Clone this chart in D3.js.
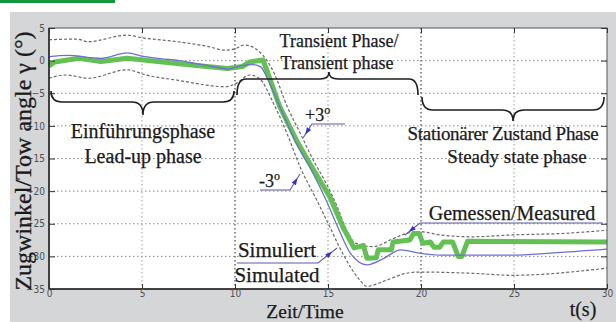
<!DOCTYPE html>
<html>
<head>
<meta charset="utf-8">
<script src="https://cdn.jsdelivr.net/npm/d3@7"></script>
<style>
  body { margin: 0; background: #fff; }
  svg { display: block; }
</style>
</head>
<body>
<div id="chart"></div>
<script>
// values (time in s, angle in degrees)
const xTicks = [0, 5, 10, 15, 20, 25, 30];
const yTicks = [5, 0, -5, -10, -15, -20, -25, -30, -35];

const simT = [0, 1, 2.8, 4.2, 5, 6, 7, 8, 9, 9.6, 10.3, 11, 11.4, 11.7, 12.4, 13.3, 14.2, 14.9, 15.6, 16.2, 17.1, 18, 18.9, 19.9, 21, 22.1, 24.9, 27, 30];
const simV = [0.6, 0.8, 0.35, 1.2, 0.7, 0.3, 0, -0.5, -1.0, -1.3, -0.8, -0.6, -1.0, -2.5, -7, -12.7, -17.3, -21.4, -26, -29.5, -31.3, -30.3, -29, -29.5, -29.8, -29.8, -29.8, -29.5, -28.9];

const upT = [0, 1.5, 2.1, 4.2, 5, 6.9, 8.5, 9.5, 10, 10.5, 11.3, 12.1, 12.8, 13.5, 14.2, 14.9, 15.5, 16, 16.5, 17.4, 18.5, 19.2, 19.9, 21, 22.8, 25, 27.5, 30];
const upV = [3.2, 3.3, 2.9, 3.9, 3.5, 2.9, 2.2, 1.6, 1.8, 2.4, 1.4, -1.9, -7, -11.1, -15.2, -18.8, -22.4, -26, -28, -28.5, -27.3, -26.5, -26.2, -26.7, -27, -26.7, -26.5, -26];

const lowT = [0, 0.9, 2.1, 4.2, 5.2, 6.9, 9.5, 10, 10.8, 11.3, 12.06, 12.8, 13.5, 14.4, 15.1, 15.6, 16.2, 16.7, 17.1, 18, 19.2, 19.9, 22.8, 24.9, 30];
const lowV = [-2.7, -2.2, -2.7, -1.4, -2.2, -3, -4, -3.6, -2.2, -2.7, -6.5, -11.2, -16.3, -21.4, -25.5, -28.5, -31.6, -33.6, -34.6, -33.8, -32.6, -32.4, -32.6, -32.9, -31.8];

const measT = [0, 0.3, 1.6, 2.8, 4.2, 6.1, 7.8, 9.6, 10.4, 10.8, 11.5, 11.7, 12.4, 13.3, 14, 15.1, 15.8, 16.4, 16.7, 16.9, 17.1, 17.6, 17.7, 18.4, 18.5, 19.4, 19.6, 19.9, 20.1, 20.5, 20.7, 21.0, 21.2, 21.7, 22.0, 22.2, 22.5, 30];
const measV = [-0.8, -0.2, 0.35, -0.15, 0.35, -0.2, -0.7, -1.2, -0.9, -0.2, 0.1, -1.4, -7, -12.2, -15.7, -20.9, -25.5, -28.7, -28.5, -28.3, -30.3, -30.2, -29, -29, -27.8, -27.5, -26.5, -26.5, -28, -27.8, -28.6, -28.6, -27.8, -27.8, -30, -30, -27.7, -27.8];

const width = 616, height = 322;
const svg = d3.select("#chart").append("svg")
    .attr("width", width)
    .attr("height", height);

// grey panel behind the plot and the green strip top-left
svg.append("rect").attr("x", 10).attr("y", 12).attr("width", width - 10).attr("height", height - 12).attr("fill", "#d4d6d8");
svg.append("rect").attr("x", 0).attr("y", 0).attr("width", 115).attr("height", 3).attr("fill", "#12973c");

const x = d3.scaleLinear().domain([0, 30]).range([49, 607]);
const y = d3.scaleLinear().domain([-35, 5]).range([289, 28]);

svg.append("rect")
    .attr("x", x(0)).attr("y", y(5))
    .attr("width", x(30) - x(0)).attr("height", y(-35) - y(5))
    .attr("fill", "#fff");

// dotted grid
const grid = svg.append("g").attr("stroke-dasharray", "1.5,2.5").attr("fill", "none");
grid.selectAll(".gy").data(yTicks.filter(d => d > -35 && d < 5)).enter().append("line")
    .attr("x1", x(0)).attr("x2", x(30))
    .attr("y1", d => y(d)).attr("y2", d => y(d))
    .attr("stroke", "#8a8a8a").attr("stroke-width", 1);
grid.selectAll(".gx").data(xTicks.filter(d => d > 0 && d < 30)).enter().append("line")
    .attr("y1", y(5)).attr("y2", y(-35))
    .attr("x1", d => x(d)).attr("x2", d => x(d))
    .attr("stroke", d => (d === 10 || d === 20) ? "#555" : "#9a9a9a")
    .attr("stroke-width", d => (d === 10 || d === 20) ? 1.3 : 1);

// series
const line = d3.line().x(d => x(d[0])).y(d => y(d[1])).curve(d3.curveMonotoneX);
const lineStep = d3.line().x(d => x(d[0])).y(d => y(d[1]));

svg.append("path").datum(d3.zip(upT, upV))
    .attr("d", line).attr("fill", "none")
    .attr("stroke", "#6a6a6a").attr("stroke-width", 1.2).attr("stroke-dasharray", "3,2");
svg.append("path").datum(d3.zip(lowT, lowV))
    .attr("d", line).attr("fill", "none")
    .attr("stroke", "#6a6a6a").attr("stroke-width", 1.2).attr("stroke-dasharray", "3,2");
svg.append("path").datum(d3.zip(measT, measV))
    .attr("d", lineStep).attr("fill", "none")
    .attr("stroke", "#62c152").attr("stroke-width", 5).attr("stroke-linejoin", "round");
svg.append("path").datum(d3.zip(simT, simV))
    .attr("d", line).attr("fill", "none")
    .attr("stroke", "#6e6fd6").attr("stroke-width", 1.3);

// frame and ticks
const frame = svg.append("g").attr("fill", "none");
frame.append("rect")
    .attr("x", x(0)).attr("y", y(5))
    .attr("width", x(30) - x(0)).attr("height", y(-35) - y(5))
    .attr("stroke", "#555").attr("stroke-width", 1);
frame.append("line").attr("x1", x(0)).attr("x2", x(0)).attr("y1", y(5)).attr("y2", y(-35)).attr("stroke", "#222").attr("stroke-width", 1.5);
frame.append("line").attr("x1", x(0)).attr("x2", x(30)).attr("y1", y(-35)).attr("y2", y(-35)).attr("stroke", "#222").attr("stroke-width", 1.5);

const xAxis = svg.append("g").attr("transform", `translate(0,${y(-35)})`)
    .call(d3.axisBottom(x).tickValues(xTicks).tickSize(-5).tickPadding(1));
const xTop = svg.append("g").attr("transform", `translate(0,${y(5)})`)
    .call(d3.axisTop(x).tickValues(xTicks).tickSize(-5).tickFormat(""));
const yAxis = svg.append("g").attr("transform", `translate(${x(0)},0)`)
    .call(d3.axisLeft(y).tickValues(yTicks).tickSize(-6).tickPadding(4));
const yRight = svg.append("g").attr("transform", `translate(${x(30)},0)`)
    .call(d3.axisRight(y).tickValues(yTicks).tickSize(-6).tickFormat(""));

[xAxis, xTop, yAxis, yRight].forEach(a => {
    a.select(".domain").remove();
    a.selectAll(".tick line").attr("stroke", "#333");
    a.selectAll("text")
        .attr("fill", "#505050")
        .attr("font-family", "DejaVu Sans Condensed, Liberation Sans Narrow, Liberation Sans, sans-serif")
        .style("font-stretch", "condensed")
        .attr("font-size", 10);
});

// braces
function brace(x1, x2, xm, yEnd, yLine, yTip, r) {
    return `M${x1},${yEnd} Q${x1},${yLine} ${x1 + r},${yLine} L${xm - r},${yLine} ` +
        `Q${xm},${yLine} ${xm},${yTip} Q${xm},${yLine} ${xm + r},${yLine} ` +
        `L${x2 - r},${yLine} Q${x2},${yLine} ${x2},${yEnd}`;
}
const braces = svg.append("g").attr("fill", "none").attr("stroke", "#1e1e1e").attr("stroke-width", 1.6);
braces.append("path").attr("d", brace(51, 234, 143, 91, 102, 115, 11));
braces.append("path").attr("d", brace(237, 418, 329, 95, 79, 72, 9));
braces.append("path").attr("d", brace(422, 604, 513, 97, 110, 121, 11));

// text labels
const serif = "Liberation Serif, Times New Roman, Times, DejaVu Serif, serif";
function label(tx, ty, str, size, anchor) {
    return svg.append("text")
        .attr("x", tx).attr("y", ty)
        .attr("text-anchor", anchor || "middle")
        .attr("font-family", serif)
        .attr("font-size", size)
        .attr("fill", "#1a1a1a")
        .attr("stroke", "#1a1a1a").attr("stroke-width", 0.25)
        .text(str);
}
label(143, 138, "Einführungsphase", 20);
label(143, 163, "Lead-up phase", 20);
label(339, 47, "Transient Phase/", 18);
label(337, 69, "Transient phase", 18);
label(503, 140, "Stationärer Zustand Phase", 19).attr("letter-spacing", "-0.3px");
label(517, 163, "Steady state phase", 19);
label(512, 220, "Gemessen/Measured", 20);
label(277, 257, "Simuliert", 21);
label(277, 282, "Simulated", 21);
label(305, 317.5, "Zeit/Time", 19.5);
label(583, 316, "t(s)", 20);

const p3 = label(305, 121, "+3", 18, "start");
p3.append("tspan").attr("dy", -7).attr("font-size", 12).text("o");
const m3 = label(259, 187, "-3", 18, "start");
m3.append("tspan").attr("dy", -7).attr("font-size", 12).text("o");

svg.append("text")
    .attr("transform", "translate(31,161) rotate(-90)")
    .attr("text-anchor", "middle")
    .attr("font-family", serif)
    .attr("font-size", 24)
    .attr("fill", "#1a1a1a")
    .attr("stroke", "#1a1a1a").attr("stroke-width", 0.3)
    .text("Zugwinkel/Tow angle γ (°)");

// leader lines with small arrow heads
const leaders = [
    [[345, 124], [312, 124], [303, 138]],
    [[260, 190], [290, 190], [300, 174]],
    [[237, 263], [318, 263], [337, 248]],
    [[603, 223], [420, 223], [405, 235]]
];
leaders.forEach(pts => {
    svg.append("path")
        .attr("d", d3.line()(pts))
        .attr("fill", "none").attr("stroke", "#5b5ca6").attr("stroke-width", 1.1);
    const a = pts[pts.length - 1], b = pts[pts.length - 2];
    const ang = Math.atan2(a[1] - b[1], a[0] - b[0]) * 180 / Math.PI;
    svg.append("path")
        .attr("d", "M0,0 L-7,-2.5 L-7,2.5 Z")
        .attr("transform", `translate(${a[0] - (a[0] - b[0]) * 0.25},${a[1] - (a[1] - b[1]) * 0.25}) rotate(${ang})`)
        .attr("fill", "#3434c4");
});
</script>
</body>
</html>
